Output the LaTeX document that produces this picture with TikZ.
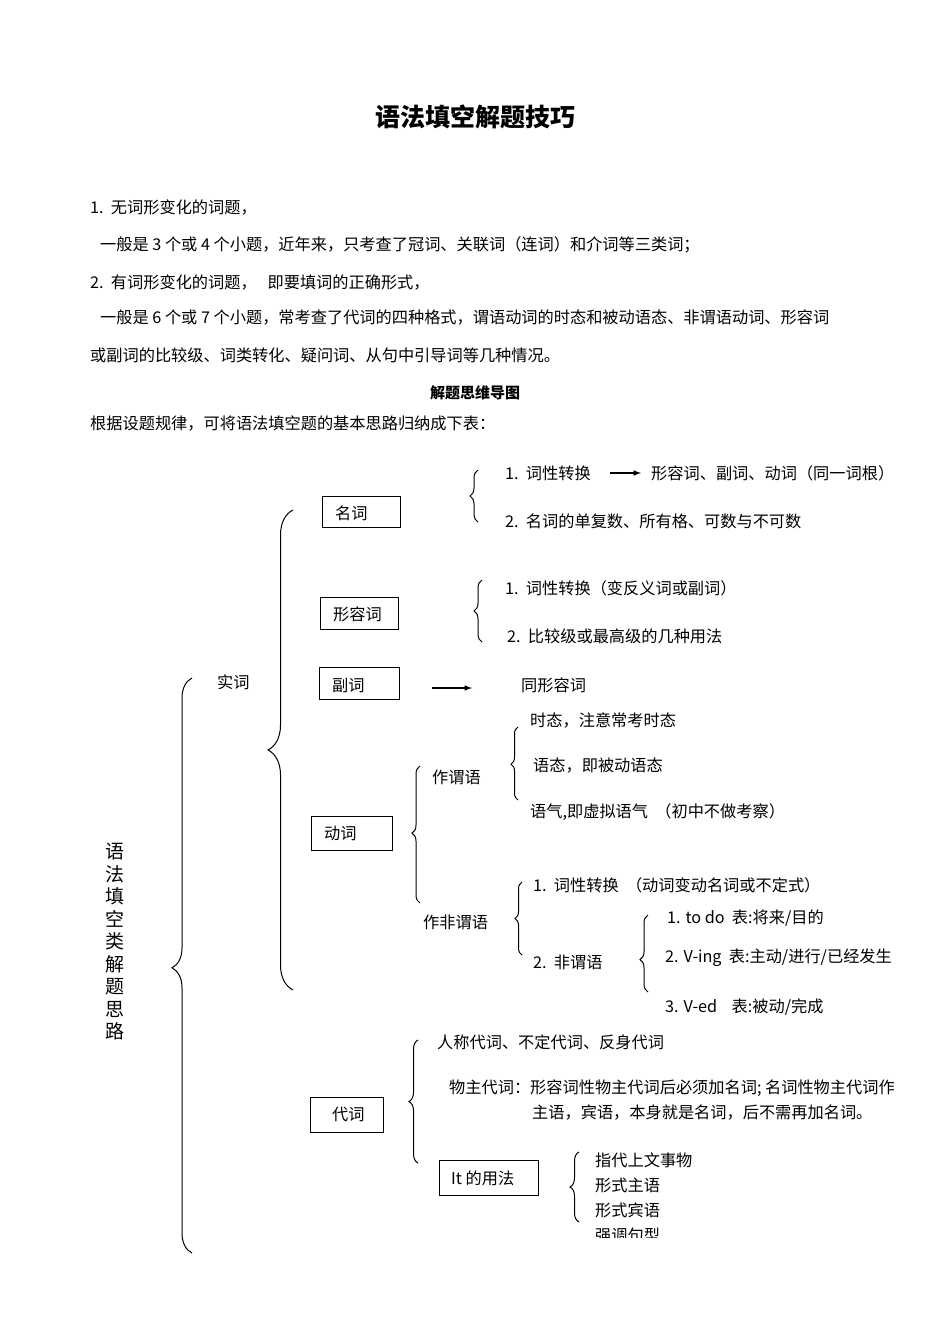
\documentclass[tikz,border=0pt]{standalone}
\usepackage{fontspec}
\setmainfont{Noto Sans CJK SC}
\usetikzlibrary{decorations.pathreplacing}
\tikzset{
 t/.style={anchor=west,inner sep=0pt,font=\fontsize{16.2}{19}\selectfont},
 bx/.style={draw,line width=0.8pt,anchor=north west,inner sep=0pt},
 br/.style={decorate,decoration={brace,amplitude=#1},line width=1pt},
 ar/.style={-latex,line width=1.5pt}
}
\begin{document}
\begin{tikzpicture}[x=1pt,y=-1pt]
\useasboundingbox (0,0) rectangle (950,1344);
\node[font=\fontsize{25}{28}\selectfont\bfseries] (title) at (475,117) {语法填空解题技巧};
\node[t] (l1) at (90,207) {1.\ \ 无词形变化的词题，};
\node[t] (l2) at (100,245) {一般是 3 个或 4 个小题，近年来，只考查了冠词、关联词（连词）和介词等三类词；};
\node[t] (l3) at (90,282) {2.\ \ 有词形变化的词题，\ \ \ 即要填词的正确形式，};
\node[t] (l4) at (100,318) {一般是 6 个或 7 个小题，常考查了代词的四种格式，谓语动词的时态和被动语态、非谓语动词、形容词};
\node[t] (l5) at (90,355) {或副词的比较级、词类转化、疑问词、从句中引导词等几种情况。};
\node[font=\fontsize{15}{17}\selectfont\bfseries] (sub) at (475,393) {解题思维导图};
\node[t] (l6) at (90,424) {根据设题规律，可将语法填空题的基本思路归纳成下表：};
% root
\node[font=\fontsize{19}{22.5}\selectfont,align=center,inner sep=0pt] (root) at (115,942) {语\\法\\填\\空\\类\\解\\题\\思\\路};
\draw[br={20pt},decoration={aspect=0.496}] (192,1253) -- (192,678);
\node[t] (shici) at (217,682) {实词};
\draw[br={25pt},decoration={aspect=0.5}] (293,990) -- (293,510);
% boxes
\draw (322,496) rectangle (400,527); \node[t] (mingci) at (335,513) {名词};
\draw (320,597) rectangle (398,629); \node[t] (xrc) at (333,614) {形容词};
\draw (319,667) rectangle (399,699); \node[t] (fuci) at (332,685) {副词};
\draw (311,816) rectangle (392,850); \node[t] (dongci) at (324,833) {动词};
\draw (310,1097) rectangle (383,1132); \node[t] (daici) at (332,1114) {代词};
\draw (439,1160) rectangle (538,1195); \node[t] (it) at (451,1178) {It 的用法};
% 名词
\draw[br={8pt},decoration={aspect=0.5}] (478,522) -- (478,470);
\node[t] (m1) at (505,473) {1.\ \ 词性转换};
\node[t] (m1b) at (651,473) {形容词、副词、动词（同一词根）};
\coordinate (a1) at (610,473); \coordinate (a2) at (641,473);
\draw[ar] (a1) -- (a2);
\node[t] (m2) at (505,521) {2.\ \ 名词的单复数、所有格、可数与不可数};
% 形容词
\draw[br={8pt},decoration={aspect=0.5}] (482,642) -- (482,580);
\node[t] (x1) at (505,588) {1.\ \ 词性转换（变反义词或副词）};
\node[t] (x2) at (507,636) {2.\ \ 比较级或最高级的几种用法};
% 副词
\coordinate (b1) at (432,688); \coordinate (b2) at (472,688);
\draw[ar] (b1) -- (b2);
\node[t] (f1) at (521,685) {同形容词};
% 动词
\draw[br={8pt},decoration={aspect=0.51}] (420,903) -- (420,766);
\node[t] (zwy) at (432,777) {作谓语};
\node[t] (zfwy) at (423,922) {作非谓语};
\draw[br={7pt},decoration={aspect=0.49}] (518,800) -- (518,727);
\node[t] (w1) at (530,720) {时态，注意常考时态};
\node[t] (w2) at (533,766) {语态，即被动语态};
\node[t] (w3) at (530,812) {语气,即虚拟语气\ \ （初中不做考察）};
\draw[br={7pt},decoration={aspect=0.5}] (522,955) -- (522,882);
\node[t] (n1) at (533,885) {1.\ \ 词性转换\ \ （动词变动名词或不定式）};
\node[t] (n2) at (533,962) {2.\ \ 非谓语};
\draw[br={8pt},decoration={aspect=0.42}] (648,992) -- (648,915);
\node[t] (v1) at (667,918) {1. to do\ \ 表:将来/目的};
\node[t] (v2) at (665,958) {2. V-ing\ \ 表:主动/进行/已经发生};
\node[t] (v3) at (665,1007) {3. V-ed\ \ \ \ 表:被动/完成};
% 代词
\draw[br={9pt},decoration={aspect=0.5}] (418,1163) -- (418,1040);
\node[t] (d1) at (437,1042) {人称代词、不定代词、反身代词};
\node[t] (d2) at (449,1088) {物主代词：形容词性物主代词后必须加名词; 名词性物主代词作};
\node[t] (d3) at (532,1113) {主语，宾语，本身就是名词，后不需再加名词。};
\draw[br={9pt},decoration={aspect=0.5}] (579,1222) -- (579,1152);
\node[t] (i1) at (595,1160) {指代上文事物};
\node[t] (i2) at (595,1185) {形式主语};
\node[t] (i3) at (595,1210) {形式宾语};
\begin{scope}
\clip (580,1220) rectangle (800,1237);
\node[t] (i4) at (595,1235) {强调句型};
\end{scope}
\end{tikzpicture}
\end{document}
